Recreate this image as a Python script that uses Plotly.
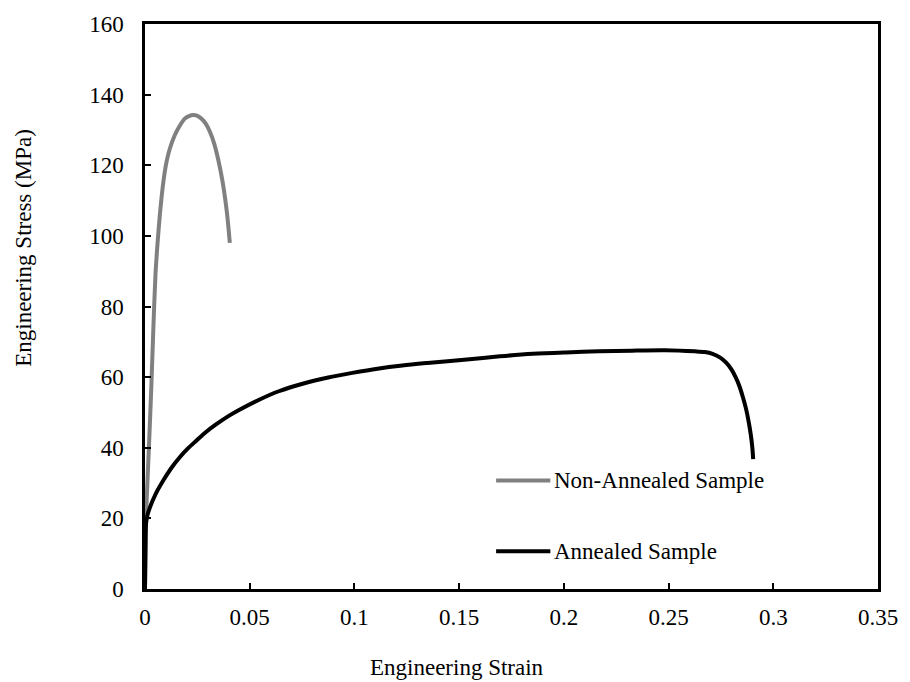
import plotly.graph_objects as go

# Non-annealed sample (grey curve)
non_annealed_strain = [0, 0.0005, 0.001, 0.002, 0.003, 0.004, 0.005, 0.006, 0.0071, 0.0087,
                       0.0103, 0.0118, 0.0142, 0.0166, 0.019, 0.021, 0.023, 0.025, 0.027,
                       0.029, 0.031, 0.033, 0.035, 0.037, 0.0385, 0.0395, 0.0405]
non_annealed_stress = [0, 20, 28, 42, 57, 74, 89, 98, 106, 115,
                       121, 124.6, 128.5, 131.2, 133.2, 133.9, 134.2, 134, 133.2,
                       131.8, 129.5, 126.2, 121.5, 115.5, 109.5, 104.5, 98]

# Annealed sample (black curve)
annealed_strain = [0, 0.0002, 0.0005, 0.0012, 0.0024, 0.005, 0.0087, 0.0125, 0.0166, 0.0205,
                   0.0245, 0.029, 0.0339, 0.0402, 0.0449, 0.0545, 0.0639, 0.0757, 0.0875, 0.099,
                   0.111, 0.1229, 0.1348, 0.1537, 0.1695, 0.1853, 0.201, 0.2168, 0.2325, 0.2483,
                   0.2625, 0.2673, 0.271, 0.2745, 0.2775, 0.280, 0.282, 0.2838, 0.2855, 0.287,
                   0.2883, 0.2893, 0.290, 0.2904]
annealed_stress = [0, 10, 18.6, 21, 23.2, 26.8, 30.7, 34.2, 37.3, 39.8,
                   42, 44.4, 46.6, 49.1, 50.7, 53.6, 56, 58.2, 59.9, 61.2,
                   62.4, 63.3, 64, 65, 65.9, 66.6, 67, 67.3, 67.5, 67.6,
                   67.3, 67.1, 66.6, 65.6, 64.1, 62.2, 60, 57.5, 54.3, 51,
                   47.2, 43.5, 40, 36.8]

series_names = ['Non-Annealed Sample', 'Annealed Sample']
series_colors = ['#808080', '#000000']
x_title = 'Engineering Strain'
y_title = 'Engineering Stress (MPa)'

FONT = dict(family='Liberation Serif, Times New Roman, serif', size=23, color='black')

fig = go.Figure()

fig.add_trace(go.Scatter(
    x=non_annealed_strain, y=non_annealed_stress,
    mode='lines', name=series_names[0],
    line=dict(color=series_colors[0], width=4, shape='spline', smoothing=0.8),
    showlegend=False
))
fig.add_trace(go.Scatter(
    x=annealed_strain, y=annealed_stress,
    mode='lines', name=series_names[1],
    line=dict(color=series_colors[1], width=4, shape='spline', smoothing=0.8),
    showlegend=False
))

# Legend drawn by hand so the key lines match the original length
legend_y = [0.192, 0.067]
for name, color, ly in zip(series_names, series_colors, legend_y):
    fig.add_shape(type='line', xref='paper', yref='paper',
                  x0=0.479, x1=0.553, y0=ly, y1=ly,
                  line=dict(color=color, width=4))
    fig.add_annotation(xref='paper', yref='paper', x=0.555, y=ly,
                       text=name, showarrow=False, xanchor='left', yanchor='middle',
                       font=FONT)

# axis titles sit off-centre in the original, so place them as annotations
fig.add_annotation(xref='paper', yref='paper', x=0.425, y=-0.139,
                   text=x_title, showarrow=False, xanchor='center', yanchor='middle',
                   font=FONT)
fig.add_annotation(xref='paper', yref='paper', x=-0.165, y=0.604,
                   text=y_title, showarrow=False, textangle=-90,
                   xanchor='center', yanchor='middle', font=FONT)

fig.update_xaxes(
    range=[0, 0.35], dtick=0.05, tick0=0,
    ticks='inside', ticklen=6, tickwidth=2, tickcolor='black',
    showline=True, linewidth=2.5, linecolor='black', mirror=True,
    showgrid=False, zeroline=False,
    tickfont=FONT, ticklabelstandoff=6
)
fig.update_yaxes(
    range=[0, 160], dtick=20, tick0=0,
    ticks='inside', ticklen=6, tickwidth=2, tickcolor='black',
    showline=True, linewidth=2.5, linecolor='black', mirror=True,
    showgrid=False, zeroline=False,
    tickfont=FONT, ticklabelstandoff=14
)

fig.update_layout(
    width=910, height=682,
    margin=dict(l=145, r=24, t=21, b=93),
    plot_bgcolor='white', paper_bgcolor='white',
    font=FONT
)

# drop the default 8px body margin so the figure sits at the page origin
fig.write_html("out.html", config={'displayModeBar': False},
               post_script="document.body.style.margin='0';")
